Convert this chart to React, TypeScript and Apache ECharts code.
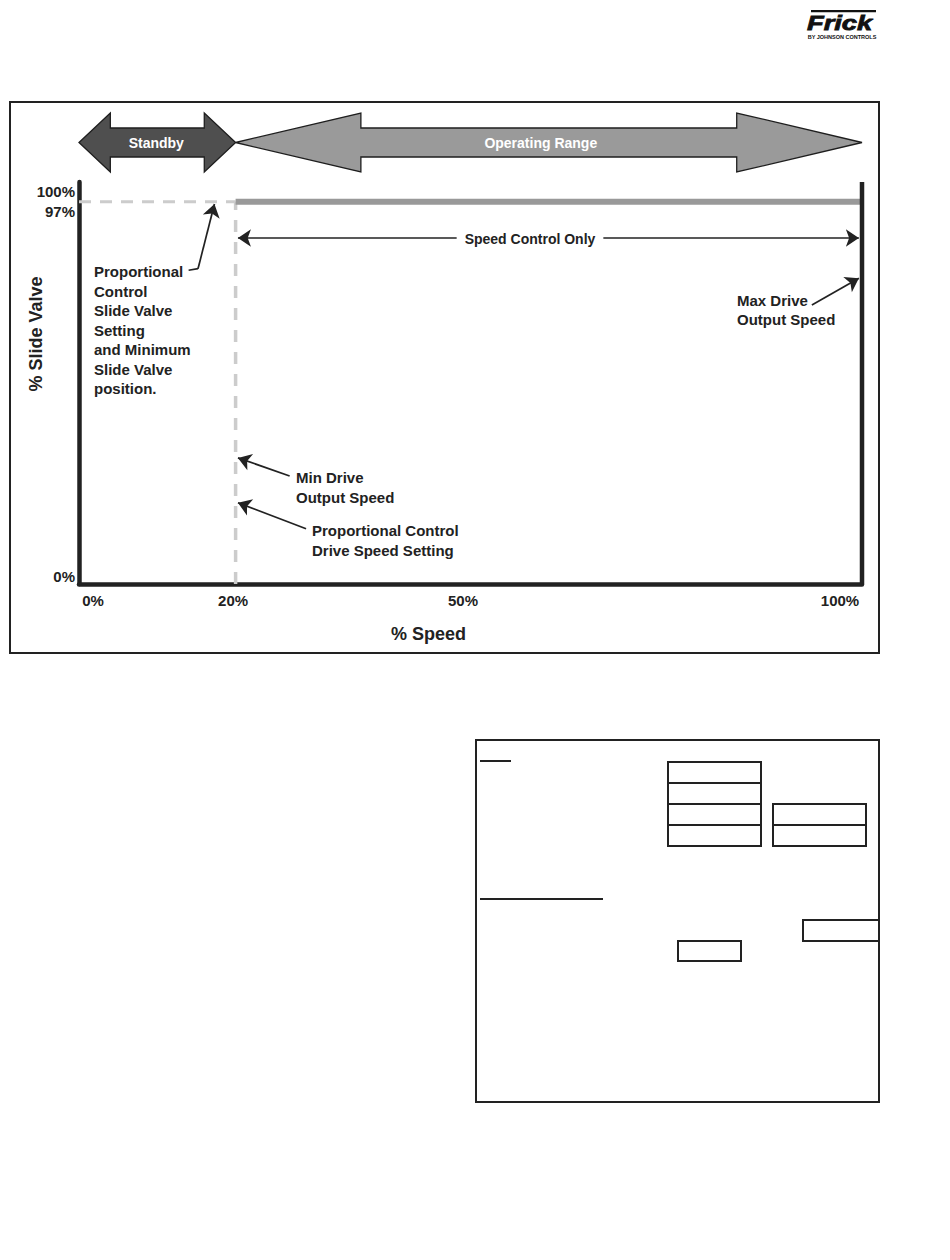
import React, { useEffect, useRef } from 'react';
import * as echarts from 'echarts';

// ---- data ----
const speedTicks = [0, 20, 50, 100];
const valveTicks = [0, 97, 100];
const rangeNames = ['Standby', 'Operating Range'];
const rangeFrom = [0, 20];
const rangeTo = [20, 100];
const minSpeedPct = 20;
const maxSpeedPct = 100;
const minValvePct = 97;
const valveAxisMax = 102;
const controlLine = [[minSpeedPct, minValvePct], [maxSpeedPct, minValvePct]];
const standbyLine = [[0, minValvePct], [minSpeedPct, minValvePct]];
const minSpeedLine = [[minSpeedPct, 0], [minSpeedPct, minValvePct]];
const maxSpeedLine = [[maxSpeedPct, 0], [maxSpeedPct, valveAxisMax]];
const speedOnlySpan = [[20.3, 87.8], [99.6, 87.8]];
const pointerValveTail = [[14.0, 79.6], [15.2, 80.0]];
const pointerValve = [[15.2, 80.0], [17.3, 96.4]];
const pointerMinDrive = [[26.9, 27.4], [20.3, 32.0]];
const pointerPropDrive = [[29.0, 14.0], [20.3, 20.6]];
const pointerMaxDrive = [[93.6, 70.8], [99.6, 77.6]];

const FONT = '"Liberation Sans", Arial, Helvetica, sans-serif';
const INK = '#222';

export default function App() {
  const ref = useRef<HTMLDivElement>(null);
  useEffect(() => {
    if (!ref.current) return;
    const chart = echarts.init(ref.current, null, { renderer: 'svg' });
    const rangeColors = ['#4f4f4f', '#9a9a9a'];
    const pointerSeries = (coords: number[][], withArrow = true) => ({
      type: 'lines',
      coordinateSystem: 'cartesian2d',
      symbol: withArrow ? ['none', 'arrow'] : ['none', 'none'],
      symbolSize: 13,
      lineStyle: { color: INK, width: 1.7, opacity: 1 },
      itemStyle: { color: INK },
      z: 5,
      data: [{ coords }],
    });
    const xRich: any = {
      a: { padding: [0, 0, 0, 28] },
      b: { padding: [0, 5, 0, 0] },
      c: { padding: [0, 15, 0, 0] },
      d: { padding: [0, 44, 0, 0] },
    };
    Object.keys(xRich).forEach((k) => Object.assign(xRich[k], { fontSize: 15, fontWeight: 'bold', fontFamily: FONT, color: INK }));
    const yRich: any = {
      a: { padding: [0, 0, 16, 0] },
      b: { padding: [20, 0, 0, 0] },
      c: { padding: [4, 0, 0, 0] },
    };
    Object.keys(yRich).forEach((k) => Object.assign(yRich[k], { fontSize: 15, fontWeight: 'bold', fontFamily: FONT, color: INK }));

    const annot = (text: string, x: number, y: number, extra: any = {}) => ({
      type: 'text',
      x,
      y,
      z: 100,
      style: {
        text,
        fill: INK,
        fontSize: 15,
        fontWeight: 'bold',
        fontFamily: FONT,
        lineHeight: 19.5,
        verticalAlign: 'top',
        ...extra,
      },
    });

    chart.setOption({
      animation: false,
      backgroundColor: '#fff',
      grid: { left: 79, top: 182, width: 783, height: 402 },
      xAxis: {
        type: 'value',
        min: 0,
        max: 100,
        name: '% Speed',
        nameLocation: 'middle',
        nameGap: 41,
        nameMoveOverlap: false,
        nameTextStyle: { fontSize: 18, fontWeight: 'bold', fontFamily: FONT, color: INK, padding: [0, 84, 0, 0] },
        axisLine: { show: true, onZero: false, lineStyle: { color: INK, width: 4.5 } },
        axisTick: { show: false },
        splitLine: { show: false },
        axisLabel: {
          customValues: speedTicks,
          margin: 9,
          formatter: (v: number) => {
            const i = speedTicks.indexOf(v);
            const key = ['a', 'b', 'c', 'd'][i] || 'b';
            return `{${key}|${v}%}`;
          },
          rich: xRich,
        },
      },
      yAxis: {
        type: 'value',
        min: 0,
        max: valveAxisMax,
        name: '% Slide Valve',
        nameLocation: 'middle',
        nameGap: 34,
        nameMoveOverlap: false,
        nameTextStyle: { fontSize: 18, fontWeight: 'bold', fontFamily: FONT, color: INK, padding: [0, 0, 0, 98] },
        axisLine: { show: true, onZero: false, lineStyle: { color: INK, width: 4.5 } },
        axisTick: { show: false },
        splitLine: { show: false },
        axisLabel: {
          customValues: valveTicks,
          margin: 4,
          formatter: (v: number) => {
            const i = valveTicks.indexOf(v);
            const key = ['a', 'b', 'c'][i] || 'c';
            return `{${key}|${v}%}`;
          },
          rich: yRich,
        },
      },
      series: [
        {
          type: 'custom',
          clip: false,
          z: 3,
          encode: { x: [0, 1] },
          data: rangeNames.map((n, i) => [rangeFrom[i], rangeTo[i], i]),
          renderItem: (params: any, api: any) => {
            const x0 = api.coord([api.value(0), 0])[0];
            const x1 = api.coord([api.value(1), 0])[0];
            const idx = api.value(2);
            const cy = params.coordSys.y - 39.5;
            const head = (x1 - x0) * 0.2;
            const sh = 14.5;
            const hh = 29.5;
            const points = [
              [x0, cy], [x0 + head, cy - hh], [x0 + head, cy - sh], [x1 - head, cy - sh],
              [x1 - head, cy - hh], [x1, cy], [x1 - head, cy + hh], [x1 - head, cy + sh],
              [x0 + head, cy + sh], [x0 + head, cy + hh],
            ];
            return {
              type: 'group',
              children: [
                { type: 'polygon', shape: { points }, style: { fill: rangeColors[idx], stroke: '#1e1e1e', lineWidth: 1.3 } },
                {
                  type: 'text',
                  style: {
                    text: rangeNames[idx],
                    x: (x0 + x1) / 2 - (idx === 1 ? 8 : 1),
                    y: cy + 0.5,
                    align: 'center',
                    verticalAlign: 'middle',
                    fill: '#fff',
                    fontSize: 14,
                    fontWeight: 'bold',
                    fontFamily: FONT,
                  },
                },
              ],
            };
          },
        },
        {
          type: 'line',
          data: standbyLine,
          showSymbol: false,
          symbol: 'none',
          lineStyle: { color: '#cccccc', width: 3, type: [12, 9] },
          z: 2,
        },
        {
          type: 'line',
          data: minSpeedLine,
          showSymbol: false,
          symbol: 'none',
          lineStyle: { color: '#cccccc', width: 3.5, type: [12, 10] },
          z: 2,
        },
        {
          type: 'line',
          data: controlLine,
          showSymbol: false,
          symbol: 'none',
          lineStyle: { color: '#999999', width: 6 },
          z: 3,
        },
        {
          type: 'line',
          data: maxSpeedLine,
          showSymbol: false,
          symbol: 'none',
          lineStyle: { color: INK, width: 4.5 },
          z: 4,
        },
        {
          type: 'lines',
          coordinateSystem: 'cartesian2d',
          symbol: ['arrow', 'arrow'],
          symbolSize: 13,
          lineStyle: { color: INK, width: 1.7, opacity: 1 },
          itemStyle: { color: INK },
          z: 5,
          data: [{ coords: speedOnlySpan }],
        },
        pointerSeries(pointerValveTail, false),
        pointerSeries(pointerValve),
        pointerSeries(pointerMinDrive),
        pointerSeries(pointerPropDrive),
        pointerSeries(pointerMaxDrive),
      ],
      graphic: [
        { type: 'rect', z: 0, shape: { x: 10, y: 102, width: 869, height: 551 }, style: { fill: 'none', stroke: INK, lineWidth: 2 } },
        {
          type: 'text', x: 530, y: 239, z: 100,
          style: { text: 'Speed Control Only', align: 'center', verticalAlign: 'middle', fill: INK, fontSize: 14, fontWeight: 'bold', fontFamily: FONT, backgroundColor: '#fff', padding: [2, 8, 2, 8] },
        },
        annot('Proportional\nControl\nSlide Valve\nSetting\nand Minimum\nSlide Valve\nposition.', 94, 262),
        annot('Min Drive\nOutput Speed', 296, 468),
        annot('Proportional Control\nDrive Speed Setting', 312, 521),
        annot('Max Drive\nOutput Speed', 737, 291, { lineHeight: 19 }),
        // logo
        { type: 'rect', shape: { x: 811, y: 10, width: 65, height: 2.2 }, style: { fill: '#111' } },
        {
          type: 'text', x: 807, y: 12, scaleX: 1.3,
          style: { text: 'Frick', fill: '#111', fontSize: 21, fontWeight: 900, fontStyle: 'italic', fontFamily: FONT, verticalAlign: 'top', stroke: '#111', lineWidth: 0.8 },
        },
        {
          type: 'text', x: 842, y: 37,
          style: { text: 'BY JOHNSON CONTROLS', fill: '#111', fontSize: 5.5, fontWeight: 'bold', fontFamily: FONT, align: 'center', verticalAlign: 'middle' },
        },
        // lower panel
        { type: 'rect', shape: { x: 476, y: 740, width: 403, height: 362 }, style: { fill: 'none', stroke: INK, lineWidth: 2 } },
        { type: 'line', shape: { x1: 480, y1: 761, x2: 511, y2: 761 }, style: { stroke: INK, lineWidth: 2 } },
        { type: 'rect', shape: { x: 668, y: 762, width: 93, height: 21 }, style: { fill: 'none', stroke: INK, lineWidth: 2 } },
        { type: 'rect', shape: { x: 668, y: 783, width: 93, height: 21 }, style: { fill: 'none', stroke: INK, lineWidth: 2 } },
        { type: 'rect', shape: { x: 668, y: 804, width: 93, height: 21 }, style: { fill: 'none', stroke: INK, lineWidth: 2 } },
        { type: 'rect', shape: { x: 668, y: 825, width: 93, height: 21 }, style: { fill: 'none', stroke: INK, lineWidth: 2 } },
        { type: 'rect', shape: { x: 773, y: 804, width: 93, height: 21 }, style: { fill: 'none', stroke: INK, lineWidth: 2 } },
        { type: 'rect', shape: { x: 773, y: 825, width: 93, height: 21 }, style: { fill: 'none', stroke: INK, lineWidth: 2 } },
        { type: 'line', shape: { x1: 480, y1: 899, x2: 603, y2: 899 }, style: { stroke: INK, lineWidth: 2 } },
        { type: 'rect', shape: { x: 803, y: 920, width: 76, height: 21 }, style: { fill: 'none', stroke: INK, lineWidth: 2 } },
        { type: 'rect', shape: { x: 678, y: 941, width: 63, height: 20 }, style: { fill: 'none', stroke: INK, lineWidth: 2 } },
      ],
    });
    return () => chart.dispose();
  }, []);
  return <div ref={ref} style={{ position: 'absolute', left: 0, top: 0, width: 950, height: 1260, background: '#fff' }} />;
}
